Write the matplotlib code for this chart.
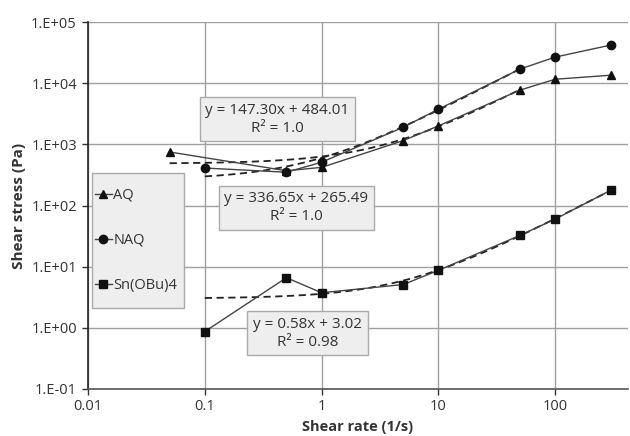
import matplotlib
matplotlib.use("Agg")
import matplotlib.pyplot as plt
from matplotlib.patches import Rectangle
import numpy as np

plt.rcParams['font.family'] = ['Open Sans', 'DejaVu Sans']

# data
aq_x = [0.05, 0.5, 1, 5, 10, 50, 100, 300]
aq_y = [750, 370, 420, 1150, 2000, 7700, 11600, 13500]
naq_x = [0.1, 0.5, 1, 5, 10, 50, 100, 300]
naq_y = [410, 350, 510, 1900, 3750, 17000, 26700, 42000]
sn_x = [0.1, 0.5, 1, 5, 10, 50, 100, 300]
sn_y = [0.87, 6.6, 3.75, 5.1, 8.7, 32.5, 60, 178]

# linear trend lines (slope, intercept, x range)
aq_fit = (147.30, 484.01, 0.05, 50)
naq_fit = (336.65, 265.49, 0.1, 50)
sn_fit = (0.58, 3.02, 0.1, 300)

xticks = [0.01, 0.1, 1, 10, 100]
xtick_labels = ['0.01', '0.1', '1', '10', '100']
yticks = [1e-1, 1e0, 1e1, 1e2, 1e3, 1e4, 1e5]
ytick_labels = ['1.E-01', '1.E+00', '1.E+01', '1.E+02', '1.E+03', '1.E+04', '1.E+05']

fig = plt.figure(figsize=(6.3, 4.36), dpi=100)
ax = fig.add_axes([0.1397, 0.1078, 0.857, 0.8417])

ax.set_xscale('log')
ax.set_yscale('log')
ax.set_xlim(0.01, 420)
ax.set_ylim(0.1, 1e5)

# trend lines
for a, b, x0, x1 in (aq_fit, naq_fit, sn_fit):
    xx = np.logspace(np.log10(x0), np.log10(x1), 200)
    ax.plot(xx, a * xx + b, '--', color='#222222', lw=1.3, dashes=(4, 2.5), zorder=3)

ax.plot(aq_x, aq_y, '-^', color='#444444', mfc='#111111', mec='#111111', ms=6, lw=1, label='AQ', zorder=4)
ax.plot(naq_x, naq_y, '-o', color='#444444', mfc='#111111', mec='#111111', ms=6, lw=1, label='NAQ', zorder=4)
ax.plot(sn_x, sn_y, '-s', color='#444444', mfc='#111111', mec='#111111', ms=5.3, lw=1, label='Sn(OBu)4', zorder=4)

ax.set_xticks(xticks)
ax.set_xticklabels(xtick_labels)
ax.set_yticks(yticks)
ax.set_yticklabels(ytick_labels)
ax.minorticks_off()
ax.tick_params(axis='both', labelsize=10.5, colors='#333333', length=4, width=1)
ax.tick_params(axis='y', pad=4)
ax.grid(True, color='#a0a0a0', lw=1)
ax.set_axisbelow(True)

for s in ('top', 'right'):
    ax.spines[s].set_visible(False)
ax.spines['left'].set_color('#222222')
ax.spines['bottom'].set_color('#555555')
ax.spines['left'].set_linewidth(1.2)
ax.spines['bottom'].set_linewidth(1.2)

ax.set_xlabel('Shear rate (1/s)', fontsize=10.5, fontweight='bold', color='#333333', labelpad=4)
ax.set_ylabel('Shear stress (Pa)', fontsize=11, fontweight='bold', color='#333333', labelpad=4)

# legend box drawn separately so the padding matches
ax.add_patch(Rectangle((0.0074, 0.221), 0.171, 0.368, transform=ax.transAxes,
                       fc='#eeeeee', ec='#aaaaaa', lw=1, zorder=5))
leg = ax.legend(loc='center left', bbox_to_anchor=(0.0074, 0.405), frameon=False,
                fontsize=10.5, handlelength=1.15, handletextpad=0.1, labelspacing=2.05,
                borderpad=0.2, borderaxespad=0)
leg.set_zorder(6)
for t in leg.get_texts():
    t.set_color('#333333')

box = dict(boxstyle='square,pad=0.38', fc='#eeeeee', ec='#aaaaaa', lw=1)
ax.text(0.351, 0.735, 'y = 147.30x + 484.01\nR² = 1.0', transform=ax.transAxes, ha='center', va='center',
        fontsize=11, color='#333333', bbox=box, linespacing=1.25, zorder=6)
ax.text(0.386, 0.494, 'y = 336.65x + 265.49\nR² = 1.0', transform=ax.transAxes, ha='center', va='center',
        fontsize=11, color='#333333', bbox=box, linespacing=1.25, zorder=6)
ax.text(0.407, 0.152, 'y = 0.58x + 3.02\nR² = 0.98', transform=ax.transAxes, ha='center', va='center',
        fontsize=11, color='#333333', bbox=box, linespacing=1.25, zorder=6)

fig.savefig('out.png', dpi=100)
